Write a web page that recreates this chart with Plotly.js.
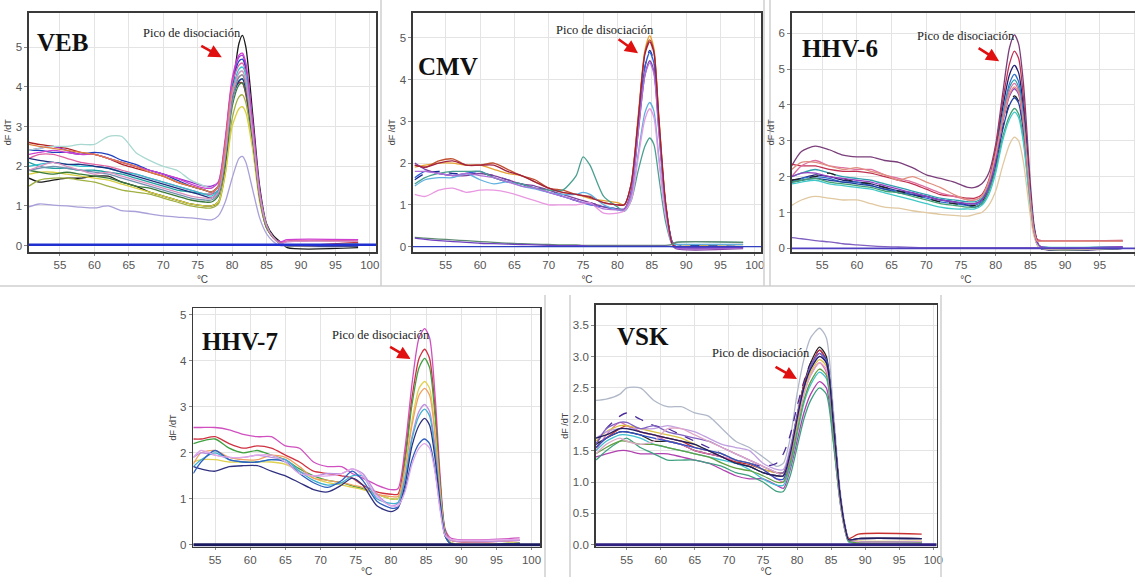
<!DOCTYPE html>
<html><head><meta charset="utf-8">
<script src="https://cdn.plot.ly/plotly-3.0.1.min.js"></script>
<style>html,body{margin:0;padding:0;overflow:hidden;background:#fff}#chart{width:1142px;height:577px}</style>
</head><body><div id="chart"></div>
<script>
// ---------------- DATA ----------------
const panelLabels = ["VEB", "CMV", "HHV-6", "HHV-7", "VSK"];
const peakLabel = "Pico de disociación";
const xTitle = "°C";
const yTitle = "dF /dT";

// VEB
const vebTemp = [50.5,52,54,56,58,60,62,64,66,68,70,72,74,76,77,78,79,80,81,81.5,82,83,84,85,86,87,88,98.3];
const vebCurves = [
 [1.7,1.6,1.65,1.7,1.7,1.75,1.75,1.6,1.5,1.35,1.25,1.15,1.05,1.0, 1.0,1.1,1.9,3.8,5.1,5.3,5.0,3.3,1.5,0.55,0.25,0.1,-0.05,-0.05],
 [2.6,2.55,2.5,2.45,2.35,2.3,2.2,2.05,1.95,1.85,1.75,1.6,1.5,1.4, 1.35,1.5,2.5,3.9,4.1,4.1,3.8,2.6,1.2,0.45,0.2,0.05,0.0,0.08],
 [2.4,2.45,2.5,2.4,2.3,2.3,2.2,2.1,2.0,1.9,1.8,1.7,1.6,1.5, 1.5,1.6,2.6,4.1,4.75,4.8,4.5,3.0,1.35,0.5,0.2,0.08,0.1,0.15],
 [2.4,2.4,2.35,2.35,2.3,2.35,2.3,2.15,2.05,1.9,1.8,1.65,1.5,1.4, 1.35,1.5,2.5,4.0,4.65,4.7,4.45,3.0,1.35,0.5,0.2,0.05,0.0,0.05],
 [2.1,2.0,1.95,1.95,1.9,1.9,1.85,1.8,1.7,1.6,1.5,1.4,1.35,1.3, 1.3,1.4,2.3,3.7,4.15,4.2,3.95,2.7,1.25,0.5,0.2,0.05,0.0,0.0],
 [2.2,2.3,2.3,2.2,2.1,2.05,2.0,1.9,1.8,1.7,1.6,1.5,1.4,1.3, 1.3,1.5,2.6,4.1,4.55,4.6,4.35,2.9,1.3,0.5,0.2,0.08,0.12,0.12],
 [1.5,1.65,1.7,1.7,1.65,1.6,1.5,1.4,1.35,1.3,1.2,1.1,1.0,0.95, 0.95,1.05,1.8,3.2,3.75,3.8,3.6,2.5,1.2,0.45,0.2,0.05,0.0,0.0],
 [1.8,1.85,1.85,1.8,1.75,1.7,1.65,1.55,1.45,1.35,1.25,1.15,1.05,1.0, 1.0,1.1,1.8,3.0,3.45,3.5,3.35,2.4,1.1,0.45,0.2,0.05,0.0,0.02],
 [2.4,2.45,2.5,2.5,2.55,2.55,2.75,2.75,2.35,2.15,2.0,1.9,1.65,1.5, 1.45,1.6,2.5,3.9,4.35,4.4,4.15,2.8,1.3,0.5,0.2,0.05,0.0,0.05],
 [2.0,2.05,2.1,2.05,2.0,2.0,1.95,1.85,1.8,1.7,1.6,1.5,1.4,1.3, 1.25,1.4,2.4,3.9,4.45,4.5,4.3,2.9,1.35,0.5,0.2,0.05,0.0,0.0],
 [2.3,2.35,2.4,2.35,2.3,2.3,2.2,2.1,2.0,1.9,1.8,1.7,1.55,1.45, 1.45,1.6,2.7,4.2,4.8,4.85,4.6,3.1,1.4,0.5,0.2,0.1,0.15,0.15],
 [1.9,1.85,1.8,1.85,1.8,1.75,1.7,1.6,1.5,1.45,1.35,1.25,1.15,1.1, 1.1,1.25,2.1,3.5,4.05,4.1,3.85,2.65,1.2,0.45,0.2,0.05,0.0,0.0],
 [2.2,2.15,2.1,2.05,2.05,2.0,1.95,1.85,1.75,1.65,1.55,1.45,1.35,1.25, 1.2,1.35,2.3,3.7,4.15,4.2,3.95,2.7,1.25,0.5,0.2,0.05,0.0,-0.02],
 [2.55,2.5,2.45,2.4,2.35,2.3,2.2,2.1,2.0,1.85,1.75,1.6,1.5,1.4, 1.35,1.5,2.5,3.9,4.25,4.3,4.05,2.75,1.25,0.5,0.2,0.05,0.0,0.05],
 [0.98,1.05,1.02,1.0,0.97,0.95,1.0,0.88,0.86,0.8,0.75,0.72,0.7,0.66, 0.65,0.75,1.1,1.7,2.2,2.25,2.1,1.4,0.7,0.3,0.1,0.0,0.0,0.0],
 [1.9,1.95,2.0,1.95,1.9,1.85,1.8,1.7,1.6,1.5,1.4,1.3,1.2,1.15, 1.15,1.3,2.2,3.6,4.25,4.3,4.05,2.75,1.25,0.5,0.2,0.05,0.0,0.05],
 [1.9,2.0,2.1,2.0,1.9,1.8,1.85,1.75,1.65,1.55,1.45,1.35,1.25,1.2, 1.2,1.35,2.3,3.8,4.35,4.4,4.15,2.8,1.3,0.5,0.2,0.05,0.1,0.1]
];
const vebColors = ["#1a1a1a","#b22222","#9b30d0","#2040c0","#20a0a0","#e060a0","#a0b040","#d8d040","#a8d8d0","#30c0d0","#d040d0","#3a7a3a","#203080","#e08040","#a8a0d8","#7090b0","#d890c0"];
const vebBaseTemp = [50.5, 100.9];
const vebBase = [0.02, 0.02];

// CMV
const cmvTemp = [50.5,52,54,56,58,60,62,64,66,68,70,72,74,75,76,78,80,81,82,83,84,84.7,85.3,86,87,88,88.5,98.3];
const cmvCurves = [
 [1.9,1.95,2.0,2.0,1.95,1.95,1.85,1.75,1.7,1.55,1.4,1.3,1.25,1.2,1.15,1.1,1.05, 1.0,1.5,3.1,4.7,5.05,4.75,3.2,1.1,0.1,0.05,0.05],
 [1.95,1.9,2.05,2.1,1.95,1.95,2.0,1.85,1.7,1.6,1.4,1.35,1.25,1.22,1.2,1.05,1.0, 1.0,1.5,3.0,4.65,4.95,4.7,3.15,1.05,0.1,0.0,0.0],
 [1.6,1.75,1.8,1.75,1.75,1.75,1.7,1.6,1.5,1.4,1.35,1.2,1.1,1.05,1.05,0.95,0.9, 0.85,1.3,2.8,4.3,4.7,4.45,3.0,1.0,0.1,0.05,0.05],
 [1.65,1.8,1.75,1.7,1.75,1.8,1.65,1.55,1.5,1.4,1.3,1.2,1.1,1.05,1.0,0.95,0.9, 0.9,1.3,2.8,4.3,4.65,4.4,2.95,1.0,0.1,0.0,0.0],
 [2.0,1.85,1.75,1.7,1.7,1.75,1.7,1.6,1.5,1.45,1.35,1.25,1.15,1.1,1.05,0.95,0.9, 0.9,1.3,2.7,4.1,4.45,4.2,2.85,0.95,0.05,-0.05,-0.05],
 [1.5,1.65,1.75,1.8,1.8,1.8,1.65,1.55,1.5,1.4,1.35,1.35,1.7,2.15,1.95,1.2,0.95, 0.85,1.1,1.8,2.4,2.6,2.45,1.7,0.6,0.05,0.1,0.1],
 [1.45,1.6,1.65,1.65,1.75,1.6,1.5,1.55,1.45,1.38,1.3,1.25,1.25,1.3,1.25,1.0,0.88, 0.85,1.15,2.2,3.2,3.45,3.25,2.2,0.8,0.05,0.05,0.05],
 [1.25,1.2,1.35,1.4,1.3,1.35,1.35,1.3,1.2,1.1,1.0,1.0,1.0,1.02,1.05,0.8,0.8, 0.85,1.1,2.1,3.05,3.3,3.1,2.1,0.75,0.05,0.0,0.0],
 [1.8,1.8,1.75,1.7,1.75,1.7,1.65,1.55,1.45,1.4,1.3,1.2,1.1,1.05,1.02,0.9,0.88, 0.88,1.25,2.7,4.1,4.4,4.15,2.8,0.95,0.05,-0.03,-0.03],
 [1.95,1.9,2.0,2.05,1.95,1.95,1.95,1.8,1.7,1.55,1.4,1.3,1.25,1.22,1.18,1.05,1.0, 1.0,1.5,3.0,4.6,4.9,4.65,3.1,1.05,0.05,0.0,0.0],
 [0.22,0.2,0.18,0.16,0.14,0.12,0.1,0.08,0.07,0.06,0.05,0.04,0.04,0.03,0.03,0.03,0.03, 0.03,0.03,0.03,0.03,0.03,0.03,0.03,0.03,0.05,0.1,0.1],
 [0.2,0.17,0.14,0.12,0.1,0.08,0.07,0.06,0.05,0.04,0.03,0.02,0.02,0.02,0.01,0.01,0.01, 0.01,0.01,0.01,0.01,0.01,0.01,0.01,0.01,0.0,-0.02,-0.02]
];
const cmvColors = ["#e8a030","#c05030","#1a2a90","#3060d8","#8040a0","#4aa090","#60b0e0","#e898e0","#b070d8","#a02040","#5f8a72","#7040c0"];
const cmvBaseTemp = [50.2, 100.9];
const cmvBase = [0.0, 0.0];

// HHV-6
const hhv6Temp = [50.6,52,54,56,58,60,62,64,66,68,70,72,74,76,77,78,79,80,81,82,82.7,83.3,84,85,85.5,86,86.5,98.3];
const hhv6Curves = [
 [2.3,2.7,2.85,2.75,2.6,2.55,2.55,2.45,2.4,2.25,2.05,1.95,1.85,1.7, 1.7,1.8,2.1,2.9,4.3,5.6,5.95,5.7,4.6,1.8,0.7,0.2,0.0,0.0],
 [2.35,2.3,2.3,2.2,2.15,2.15,2.1,2.0,1.9,1.8,1.65,1.5,1.45,1.4, 1.4,1.5,1.9,2.8,4.1,5.15,5.5,5.3,4.2,1.6,0.6,0.25,0.22,0.22],
 [1.9,1.95,2.05,2.0,1.9,1.85,1.8,1.7,1.6,1.55,1.45,1.35,1.3,1.25, 1.25,1.35,1.8,2.6,3.9,4.85,5.1,4.9,3.9,1.5,0.6,0.15,0.0,0.0],
 [1.85,1.95,2.0,1.95,1.85,1.85,1.75,1.65,1.6,1.5,1.4,1.3,1.25,1.2, 1.2,1.3,1.7,2.5,3.7,4.6,4.85,4.65,3.7,1.4,0.55,0.15,0.03,0.03],
 [2.0,2.1,2.2,2.1,2.0,1.95,1.9,1.8,1.7,1.6,1.5,1.4,1.35,1.3, 1.3,1.4,1.8,2.6,3.7,4.5,4.7,4.5,3.6,1.4,0.55,0.15,0.05,0.05],
 [2.0,2.3,2.45,2.3,2.25,2.2,2.2,2.05,1.95,1.85,1.7,1.55,1.45,1.35, 1.35,1.45,1.85,2.6,3.6,4.4,4.6,4.4,3.5,1.35,0.5,0.2,0.2,0.2],
 [1.9,1.95,2.0,2.1,1.95,1.85,1.8,1.7,1.6,1.5,1.4,1.3,1.25,1.2, 1.2,1.3,1.65,2.35,3.35,4.05,4.25,4.1,3.3,1.3,0.5,0.12,0.0,0.0],
 [1.85,1.9,1.95,1.9,1.85,1.8,1.75,1.65,1.55,1.5,1.45,1.35,1.3,1.2, 1.15,1.25,1.6,2.3,3.3,4.0,4.2,4.05,3.25,1.3,0.5,0.12,0.0,0.0],
 [1.85,1.9,1.95,1.85,1.8,1.75,1.7,1.6,1.55,1.45,1.35,1.25,1.2,1.15, 1.15,1.25,1.6,2.2,3.1,3.7,3.9,3.75,3.05,1.2,0.45,0.1,0.0,0.0],
 [1.8,1.85,1.9,1.8,1.75,1.7,1.65,1.55,1.45,1.35,1.25,1.15,1.1,1.1, 1.1,1.2,1.5,2.1,3.0,3.6,3.8,3.65,2.95,1.15,0.45,0.1,0.05,0.05],
 [1.2,1.35,1.45,1.4,1.35,1.35,1.25,1.15,1.12,1.05,1.0,0.95,0.92,0.9, 0.95,1.0,1.2,1.6,2.3,2.9,3.1,3.0,2.4,0.9,0.35,0.1,0.0,0.0],
 [2.0,2.1,2.1,2.0,1.95,1.9,1.85,1.75,1.65,1.55,1.45,1.35,1.3,1.25, 1.25,1.35,1.7,2.45,3.5,4.25,4.45,4.3,3.45,1.35,0.5,0.15,0.05,0.05],
 [2.2,2.4,2.4,2.3,2.2,2.25,2.15,2.05,1.9,2.0,1.85,1.7,1.5,1.35, 1.35,1.45,1.85,2.6,3.55,4.3,4.5,4.35,3.5,1.35,0.5,0.2,0.2,0.2],
 [0.3,0.27,0.22,0.18,0.13,0.1,0.07,0.05,0.04,0.03,0.02,0.02,0.02,0.02, 0.02,0.02,0.02,0.02,0.02,0.02,0.02,0.02,0.02,0.02,0.02,0.02,0.02,0.02]
];
const hhv6Colors = ["#7a3f7a","#c03050","#202070","#3070d0","#30a0b0","#e070a0","#222222","#2040a0","#40a070","#40c8c8","#e0c8a0","#9040c0","#e09080","#8060c0"];
const hhv6BaseTemp = [50.6, 100.8];
const hhv6Base = [0.0, 0.0];

// HHV-7
const hhv7Temp = [51.9,53,55,57,59,61,63,65,67,69,71,73,74.5,76,78,80,81,82,83,84,84.8,85.5,86.3,87,87.7,88.5,98.3];
const hhv7Curves = [
 [2.55,2.55,2.55,2.5,2.4,2.35,2.35,2.15,2.1,1.8,1.7,1.7,1.55,1.45,1.3,1.2, 1.22,2.1,3.5,4.5,4.7,4.5,3.2,1.5,0.35,0.15,0.15],
 [2.3,2.3,2.35,2.2,2.1,2.15,2.1,1.95,1.8,1.6,1.55,1.5,1.45,1.3,1.15,1.1, 1.1,1.9,3.2,4.05,4.25,4.05,2.9,1.35,0.3,0.1,0.1],
 [2.2,2.25,2.3,2.1,2.0,2.05,1.95,1.85,1.65,1.5,1.4,1.35,1.28,1.22,1.1,1.0, 1.0,1.8,3.05,3.85,4.05,3.85,2.75,1.3,0.3,0.05,0.05],
 [1.8,1.85,1.85,1.8,1.8,1.8,1.8,1.75,1.6,1.45,1.35,1.3,1.25,1.2,1.1,1.0, 1.0,1.65,2.7,3.4,3.55,3.4,2.45,1.15,0.25,0.05,0.05],
 [1.75,2.0,2.05,1.9,1.85,1.85,1.95,1.9,1.7,1.45,1.4,1.35,1.3,1.25,1.1,1.05, 1.05,1.65,2.6,3.25,3.4,3.25,2.35,1.1,0.25,0.1,0.1],
 [1.9,2.0,1.95,1.9,1.9,1.95,1.9,1.85,1.6,1.5,1.55,1.55,1.65,1.55,1.1,0.85, 0.9,1.45,2.35,2.9,3.05,2.9,2.1,1.0,0.25,0.1,0.1],
 [1.7,1.85,2.0,1.85,1.8,1.8,1.85,1.85,1.6,1.4,1.3,1.35,1.5,1.5,1.0,0.9, 0.92,1.45,2.3,2.8,2.95,2.8,2.0,0.95,0.2,0.03,0.03],
 [1.7,1.65,1.6,1.7,1.72,1.72,1.6,1.5,1.35,1.2,1.15,1.3,1.45,1.3,0.85,0.72, 0.8,1.3,2.15,2.6,2.75,2.6,1.85,0.9,0.2,0.03,0.03],
 [1.55,1.8,2.05,1.85,1.8,1.8,1.85,1.8,1.55,1.35,1.25,1.4,1.6,1.4,0.95,0.8, 0.82,1.2,1.85,2.2,2.3,2.2,1.6,0.8,0.2,0.03,0.03],
 [1.9,2.05,1.95,1.9,1.9,1.95,1.95,1.8,1.55,1.5,1.5,1.55,1.65,1.5,1.05,0.85, 0.85,1.15,1.75,2.1,2.2,2.1,1.55,0.75,0.2,0.12,0.12]
];
const hhv7Colors = ["#d050c0","#d03040","#40a040","#e0d050","#f0a060","#c090e0","#40b0d0","#303080","#3060c0","#e0a8e8"];
const hhv7BaseTemp = [51.9, 101.2];
const hhv7Base = [0.0, 0.0];

// VSK
const vskTemp = [50.5,52,54,55,57,59,61,63,65,67,69,71,73,75,77,78,79,80,81,82,83.3,84.3,85.3,86.3,87.1,87.6,89,98.3];
const vskCurves = [
 [2.3,2.32,2.4,2.5,2.5,2.3,2.2,2.2,2.1,2.05,1.85,1.65,1.55,1.4,1.25,1.3,1.7,2.4,2.95,3.3,3.45,3.3,2.2,0.9,0.3,0.1,0.05,0.05],
 [1.6,1.85,2.05,2.1,2.0,1.9,1.85,1.75,1.65,1.55,1.45,1.35,1.3,1.25,1.3,1.45,1.75,2.2,2.6,2.9,3.1,2.95,2.0,0.8,0.25,0.08,0.05,0.05],
 [1.6,1.7,1.8,1.8,1.75,1.65,1.65,1.6,1.5,1.45,1.4,1.3,1.25,1.15,1.1,1.1,1.5,2.05,2.55,2.9,3.15,3.0,2.0,0.8,0.25,0.08,0.1,0.1],
 [1.55,1.7,1.85,1.9,1.8,1.75,1.7,1.65,1.55,1.5,1.4,1.32,1.28,1.2,1.15,1.15,1.5,2.05,2.55,2.85,3.1,2.95,2.0,0.8,0.25,0.1,0.17,0.17],
 [1.5,1.75,1.95,1.9,1.8,1.75,1.65,1.6,1.5,1.45,1.4,1.35,1.3,1.2,1.05,1.0,1.35,1.9,2.4,2.7,2.9,2.75,1.85,0.75,0.22,0.08,0.05,0.05],
 [1.4,1.45,1.5,1.5,1.45,1.45,1.45,1.4,1.35,1.3,1.2,1.1,1.05,1.05,0.95,0.9,1.2,1.65,2.1,2.4,2.6,2.5,1.7,0.7,0.2,0.05,0.02,0.02],
 [1.35,1.5,1.65,1.7,1.55,1.45,1.35,1.35,1.35,1.3,1.25,1.15,1.1,1.0,0.85,0.85,1.1,1.55,2.0,2.3,2.5,2.4,1.65,0.7,0.2,0.05,0.02,0.02],
 [1.5,1.65,1.75,1.75,1.7,1.6,1.55,1.5,1.45,1.4,1.35,1.3,1.2,1.05,0.95,0.95,1.25,1.75,2.25,2.55,2.75,2.65,1.8,0.75,0.22,0.05,0.04,0.04],
 [1.65,1.8,1.9,1.9,1.85,1.8,1.75,1.7,1.6,1.5,1.45,1.35,1.3,1.2,1.15,1.15,1.45,1.95,2.45,2.75,2.95,2.85,1.9,0.75,0.22,0.08,0.06,0.06],
 [1.7,1.8,1.85,1.85,1.85,1.85,1.9,1.85,1.8,1.7,1.6,1.55,1.5,1.3,1.2,1.2,1.55,2.05,2.5,2.8,3.0,2.9,1.95,0.8,0.25,0.08,0.03,0.03],
 [1.55,1.7,1.8,1.8,1.75,1.7,1.65,1.6,1.55,1.5,1.45,1.35,1.3,1.2,1.05,1.05,1.45,2.0,2.5,2.85,3.05,2.95,2.0,0.8,0.25,0.08,0.05,0.05],
 [1.45,1.55,1.65,1.65,1.6,1.6,1.55,1.5,1.45,1.4,1.3,1.22,1.18,1.1,1.0,1.0,1.3,1.8,2.3,2.6,2.8,2.7,1.8,0.75,0.22,0.06,0.03,0.03],
 [1.6,1.85,1.95,1.95,1.85,1.9,1.8,1.75,1.7,1.65,1.55,1.45,1.35,1.25,1.15,1.15,1.5,2.05,2.5,2.85,3.05,2.9,1.95,0.8,0.25,0.08,0.1,0.1],
 [1.45,1.6,1.7,1.65,1.6,1.65,1.85,1.85,1.75,1.65,1.55,1.45,1.35,1.25,1.15,1.1,1.45,2.0,2.4,2.7,2.9,2.8,1.9,0.75,0.22,0.08,0.05,0.05],
 [1.7,1.75,1.85,1.85,1.8,1.75,1.7,1.65,1.6,1.5,1.4,1.3,1.25,1.15,1.1,1.1,1.45,2.0,2.5,2.8,3.0,2.9,1.95,0.8,0.25,0.08,0.1,0.1]
];
const vskColors = ["#b0b8c8","#4a2a9a","#222222","#c83030","#e070b0","#b040b0","#40a080","#40c0d0","#d8c040","#c0a0e0","#3050c8","#60a040","#8060c0","#e0a8c8","#202060"];
const vskBaseTemp = [50.45, 100.5];
const vskBase = [0.0, 0.0];

// ---------------- LAYOUT ----------------
const W = 1142, H = 577;
const panels = [
  {temps: vebTemp, curves: vebCurves, colors: vebColors, bt: vebBaseTemp, bv: vebBase, baseColor: "#2030d0", baseW: 2.5,
   px: [29, 376], py: [12.7, 252], xr: [50.5, 100.9], yr: [-0.16, 5.87], dy: 1, fmt: "",
   lab: [55.3, 5.13], pico: [74.2, 5.36], arrow: [78.5, 4.75, -22, -12]},
  {temps: cmvTemp, curves: cmvCurves, colors: cmvColors, bt: cmvBaseTemp, bv: cmvBase, baseColor: "#3040c0", baseW: 1.3,
   px: [413, 761], py: [12.7, 252], xr: [50.24, 100.9], yr: [-0.13, 5.6], dy: 1, fmt: "",
   lab: [55.3, 4.32], pico: [78.2, 5.18], arrow: [83.0, 4.63, -21, -15]},
  {temps: hhv6Temp, curves: hhv6Curves, colors: hhv6Colors, bt: hhv6BaseTemp, bv: hhv6Base, baseColor: "#5040c0", baseW: 1.6,
   px: [791.7, 1140], py: [12.7, 252], xr: [50.6, 100.8], yr: [-0.1, 6.57], dy: 1, fmt: "",
   lab: [57.6, 5.58], pico: [75.7, 5.92], arrow: [80.5, 5.22, -22, -14]},
  {temps: hhv7Temp, curves: hhv7Curves, colors: hhv7Colors, bt: hhv7BaseTemp, bv: hhv7Base, baseColor: "#1a1a60", baseW: 3,
   px: [193.3, 540], py: [308.3, 546.7], xr: [51.9, 101.2], yr: [-0.04, 5.14], dy: 1, fmt: "",
   lab: [58.5, 4.41], pico: [78.6, 4.57], arrow: [82.8, 4.04, -22, -13]},
  {temps: vskTemp, curves: vskCurves, colors: vskColors, bt: vskBaseTemp, bv: vskBase, baseColor: "#302080", baseW: 3,
   px: [595.7, 936.7], py: [305, 546.7], xr: [50.45, 100.5], yr: [-0.03, 3.82], dy: 0.5, fmt: ".1f",
   lab: [57.4, 3.32], pico: [74.7, 3.05], arrow: [80.0, 2.64, -23, -13]}
];

const dashedIdx = {0: [], 1: [2], 2: [6], 3: [], 4: [1]};
const tickFont = {family: "Liberation Sans Narrow, Liberation Sans, Arial, sans-serif", size: 11.5, color: "#555"};
const traces = [];
const layout = {
  width: W, height: H, autosize: false, margin: {l: 0, r: 0, t: 0, b: 0},
  paper_bgcolor: "#fff", plot_bgcolor: "#fff", showlegend: false, hovermode: false,
  annotations: [], shapes: []
};

panels.forEach((p, i) => {
  const n = i === 0 ? "" : String(i + 1);
  const xa = "x" + n, ya = "y" + n;
  p.curves.forEach((c, k) => {
    traces.push({x: p.temps, y: c, type: "scatter", mode: "lines", xaxis: xa, yaxis: ya,
      line: {color: p.colors[k], width: 1.3, shape: "spline", smoothing: 0.7,
             dash: dashedIdx[i].includes(k) ? "dash" : "solid"}});
  });
  traces.push({x: p.bt, y: p.bv, type: "scatter", mode: "lines", xaxis: xa, yaxis: ya,
    line: {color: p.baseColor, width: p.baseW}});

  layout["xaxis" + n] = {
    domain: [p.px[0] / W, p.px[1] / W], range: p.xr, anchor: ya, dtick: 5, tick0: 50,
    showgrid: true, gridcolor: "#e4e4e4", gridwidth: 1, zeroline: false,
    showline: true, mirror: true, linecolor: "#3a3a3a", linewidth: 1.6,
    ticks: "outside", ticklen: 2, tickcolor: "#888", tickfont: tickFont,
    title: {text: xTitle, font: {family: "Liberation Sans, Arial", size: 10, color: "#444"}, standoff: 5}
  };
  layout["yaxis" + n] = {
    domain: [1 - p.py[1] / H, 1 - p.py[0] / H], range: p.yr, anchor: xa, dtick: p.dy, tick0: 0,
    tickformat: p.fmt, showgrid: true, gridcolor: "#e4e4e4", gridwidth: 1, zeroline: false,
    showline: true, mirror: true, linecolor: "#3a3a3a", linewidth: 1.6,
    ticks: "outside", ticklen: 3, tickcolor: "#888", tickfont: tickFont,
    title: {text: yTitle, font: {family: "Liberation Sans, Arial", size: 9, color: "#444"}, standoff: 2}
  };
  layout.annotations.push({xref: xa, yref: ya, x: p.lab[0], y: p.lab[1], text: "<b>" + panelLabels[i] + "</b>",
    showarrow: false, font: {family: "Liberation Serif, Times New Roman, serif", size: 25, color: "#111"}});
  layout.annotations.push({xref: xa, yref: ya, x: p.pico[0], y: p.pico[1], text: peakLabel,
    showarrow: false, font: {family: "Liberation Serif, Times New Roman, serif", size: 12.5, color: "#222"}});
  layout.annotations.push({xref: xa, yref: ya, x: p.arrow[0], y: p.arrow[1], ax: p.arrow[2], ay: p.arrow[3],
    text: "", showarrow: true, arrowhead: 2, arrowsize: 1, arrowwidth: 2.6, arrowcolor: "#e01010"});
});

// light outer frames of the five image panels
const frameLines = [
  [381, 0, 381, 286], [764, 0, 764, 286], [770, 0, 770, 286], [0, 286, 1142, 286],
  [545, 295, 545, 577], [570, 295, 570, 577], [941, 295, 941, 577]
];
frameLines.forEach(f => layout.shapes.push({type: "line", xref: "paper", yref: "paper",
  x0: f[0] / W, y0: 1 - f[1] / H, x1: f[2] / W, y1: 1 - f[3] / H, line: {color: "#cfcfcf", width: 1.5}}));

Plotly.newPlot("chart", traces, layout, {staticPlot: true, displayModeBar: false});
</script>
</body></html>
